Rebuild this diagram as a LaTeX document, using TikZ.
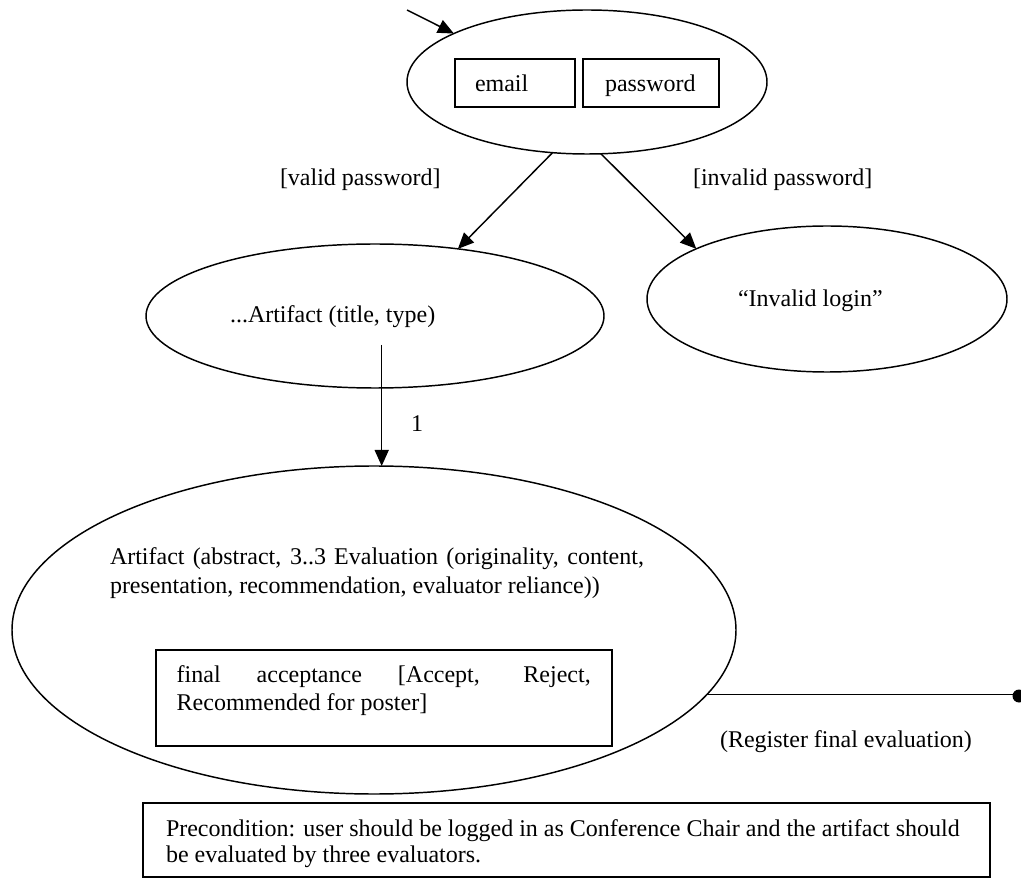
\documentclass[tikz,border=0pt]{standalone}
\usepackage{fontspec}
\setmainfont{Liberation Serif}
\usetikzlibrary{shapes.geometric,arrows.meta}
% one drawing unit = one pixel of the layout grid
\newlength\pxl
\setlength\pxl{0.75pt}
\begin{document}
\begin{tikzpicture}[x=0.75pt,y=-0.75pt,
  line width=1.1pt,
  state/.style={draw,ellipse,inner sep=0pt,outer sep=0pt},
  field/.style={draw,rectangle,inner sep=0pt,outer sep=0pt,anchor=north west},
  txt/.style={inner sep=0pt,outer sep=0pt,anchor=base west,
              font=\fontsize{18pt}{21.5pt}\selectfont},
  flow/.style={-{Triangle[length=12pt,width=10.5pt]}},
]
\useasboundingbox (0,0) rectangle (1021,880);

% login state with its two input fields
\node[state,minimum width=360*\pxl,minimum height=144*\pxl] (login) at (587,82) {};
\node[field,minimum width=120*\pxl,minimum height=48*\pxl] (emailbox) at (455,59) {};
\node[field,minimum width=136*\pxl,minimum height=48*\pxl] (passbox) at (583,59) {};
\node[txt] (emailtxt) at (475,91.7) {email};
\node[txt] (passtxt) at (605,91.7) {password};

% entry transition
\coordinate (entry) at (407,10);
\draw[flow] (entry) -- (login.160.8);

% artifact selection and failed login states
\node[state,minimum width=458*\pxl,minimum height=144*\pxl] (artshort) at (375,316) {};
\node[txt] (artshorttxt) at (230,322.7) {...Artifact (title, type)};
\node[state,minimum width=360*\pxl,minimum height=146*\pxl] (invalid) at (827,299) {};
\node[txt] (invalidtxt) at (738,307) {“Invalid login”};

\draw[flow] (login.-116.1) -- (artshort.39.4);
\draw[flow] (login.-79.8) -- (invalid.159.8);
\node[txt] (validlbl) at (280,186) {[valid password]};
\node[txt] (invalidlbl) at (693,186) {[invalid password]};

% artifact evaluation state
\node[state,minimum width=724*\pxl,minimum height=328*\pxl] (big) at (374,630) {};
\coordinate (pick) at (381.7,345);
\draw[flow] (pick) -- (pick |- big.north);
\node[txt] (mult) at (411,431.7) {1};

\node[txt] (bigtxt) at (110,564) {\parbox[t]{534\pxl}{%
  \fontsize{18pt}{21.75pt}\selectfont
  \makebox[534\pxl][s]{Artifact (abstract, 3..3 Evaluation (originality, content,}\\
  presentation, recommendation, evaluator reliance))}};

\node[field,minimum width=456*\pxl,minimum height=96*\pxl] (finalbox) at (156,650) {};
\node[txt] (finaltxt) at (176.7,682.7) {\parbox[t]{414\pxl}{%
  \fontsize{18pt}{21pt}\selectfont
  \makebox[414\pxl][s]{final acceptance [Accept, Reject,}\\
  Recommended for poster]}};

% final transition
\node[circle,fill,inner sep=0pt,outer sep=0pt,minimum size=13*\pxl] (finish) at (1019,696) {};
\draw (big.-11.28) -- (big.-11.28 -| finish.west);
\node[txt] (reglbl) at (720,747.3) {(Register final evaluation)};

% precondition note
\node[field,minimum width=847*\pxl,minimum height=74*\pxl] (pre) at (143,803) {};
\node[txt] (pretxt) at (166,836.7) {\parbox[t]{820\pxl}{%
  \fontsize{18pt}{19.5pt}\selectfont
  Precondition: user should be logged in as Conference Chair and the artifact should\\
  be evaluated by three evaluators.}};
\end{tikzpicture}
\end{document}
